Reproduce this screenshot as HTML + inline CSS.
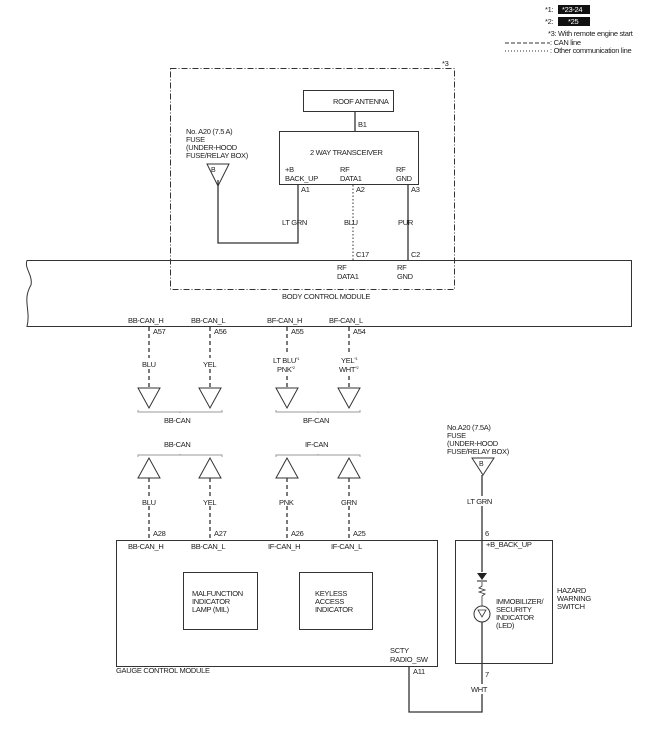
<!DOCTYPE html>
<html><head><meta charset="utf-8"><style>
html,body{margin:0;padding:0;background:#fff;}
svg{display:block;}
text{font-family:"Liberation Sans",sans-serif;font-size:7.5px;fill:#222;letter-spacing:-0.3px;}
</style></head><body>
<svg width="655" height="753" viewBox="0 0 655 753" xmlns="http://www.w3.org/2000/svg">
<!-- legend -->
<text x="545" y="12">*1:</text>
<rect x="558" y="5" width="32" height="9" fill="#111"/>
<text x="562" y="12" style="fill:#fff">*23-24</text>
<text x="545" y="24">*2:</text>
<rect x="558" y="17" width="32" height="9" fill="#111"/>
<text x="568" y="24" style="fill:#fff">*25</text>
<text x="548" y="36">*3: With remote engine start</text>
<line x1="505" y1="43" x2="550" y2="43" stroke="#333" stroke-dasharray="4,2"/>
<text x="550" y="45">: CAN line</text>
<line x1="505" y1="51" x2="550" y2="51" stroke="#333" stroke-dasharray="1,2"/>
<text x="550" y="53">: Other communication line</text>

<!-- dash-dot box -->
<rect x="170.5" y="68.5" width="284" height="221" fill="none" stroke="#333" stroke-dasharray="6,2,1,2"/>
<text x="442" y="66">*3</text>

<g fill="none" stroke="#333" stroke-width="1">
<rect x="303.5" y="90.5" width="90" height="21"/>
<rect x="279.5" y="131.5" width="139" height="53"/>
<line x1="355" y1="111" x2="355" y2="131" stroke-width="1.3"/>
<polyline points="298,184 298,243 218,243 218,180" stroke-width="1.3"/>
<line x1="353" y1="185" x2="353" y2="260" stroke-dasharray="1.5,2"/>
<line x1="408" y1="184" x2="408" y2="260" stroke-width="1.3"/>
<polygon points="207,164 229,164 218,186"/>
<!-- BCM -->
<path d="M27,260.5 H631.5 V326.5 H27 C31,310 22,300 31,285 C33,275 24,268 27,260.5 Z"/>
</g>
<text x="211" y="172" style="font-size:7px">B</text>
<text x="333" y="104">ROOF ANTENNA</text>
<text x="358" y="127">B1</text>
<text x="310" y="155">2 WAY TRANSCEIVER</text>
<text x="285" y="172">+B</text><text x="285" y="181">BACK_UP</text>
<text x="340" y="172">RF</text><text x="340" y="181">DATA1</text>
<text x="396" y="172">RF</text><text x="396" y="181">GND</text>
<text x="301" y="192">A1</text><text x="356" y="192">A2</text><text x="411" y="192">A3</text>
<text x="282" y="225">LT GRN</text><text x="344" y="225">BLU</text><text x="398" y="225">PUR</text>
<text x="186" y="134">No. A20 (7.5 A)</text>
<text x="186" y="142">FUSE</text>
<text x="186" y="150">(UNDER-HOOD</text>
<text x="186" y="158">FUSE/RELAY BOX)</text>
<text x="356" y="257">C17</text><text x="411" y="257">C2</text>
<text x="337" y="270">RF</text><text x="337" y="279">DATA1</text>
<text x="397" y="270">RF</text><text x="397" y="279">GND</text>
<text x="282" y="299">BODY CONTROL MODULE</text>

<!-- upper CAN -->
<text x="128" y="323">BB-CAN_H</text><text x="191" y="323">BB-CAN_L</text>
<text x="267" y="323">BF-CAN_H</text><text x="329" y="323">BF-CAN_L</text>
<text x="153" y="334">A57</text><text x="214" y="334">A56</text><text x="291" y="334">A55</text><text x="353" y="334">A54</text>
<g fill="none" stroke="#333">
<line x1="149" y1="327" x2="149" y2="388" stroke-dasharray="4,3" stroke-width="1.3"/>
<line x1="210" y1="327" x2="210" y2="388" stroke-dasharray="4,3" stroke-width="1.3"/>
<line x1="287" y1="327" x2="287" y2="388" stroke-dasharray="4,3" stroke-width="1.3"/>
<line x1="349" y1="327" x2="349" y2="388" stroke-dasharray="4,3" stroke-width="1.3"/>
<polygon points="138,388 160,388 149,408"/>
<polygon points="199,388 221,388 210,408"/>
<polygon points="276,388 298,388 287,408"/>
<polygon points="338,388 360,388 349,408"/>
<path d="M138,410 v2 H222 v-2 M180,412 v1" stroke="#999"/>
<path d="M276,410 v2 H360 v-2 M318,412 v1" stroke="#999"/>
<path d="M138,457 v-2 H222 v2 M180,455 v-1" stroke="#999"/>
<path d="M276,457 v-2 H360 v2 M318,455 v-1" stroke="#999"/>
<polygon points="149,458 138,478 160,478"/>
<polygon points="210,458 199,478 221,478"/>
<polygon points="287,458 276,478 298,478"/>
<polygon points="349,458 338,478 360,478"/>
<line x1="149" y1="478" x2="149" y2="540" stroke-dasharray="4,3" stroke-width="1.3"/>
<line x1="210" y1="478" x2="210" y2="540" stroke-dasharray="4,3" stroke-width="1.3"/>
<line x1="287" y1="478" x2="287" y2="540" stroke-dasharray="4,3" stroke-width="1.3"/>
<line x1="349" y1="478" x2="349" y2="540" stroke-dasharray="4,3" stroke-width="1.3"/>
</g>
<rect x="142" y="358" width="14" height="10" fill="#fff"/><text x="142" y="367">BLU</text>
<rect x="203" y="358" width="14" height="10" fill="#fff"/><text x="203" y="367">YEL</text>
<rect x="272" y="354" width="32" height="20" fill="#fff"/>
<text x="273" y="363">LT BLU<tspan style="font-size:4px" dy="-3">*1</tspan></text>
<text x="277" y="372">PNK<tspan style="font-size:4px" dy="-3">*2</tspan></text>
<rect x="338" y="354" width="24" height="20" fill="#fff"/>
<text x="341" y="363">YEL<tspan style="font-size:4px" dy="-3">*1</tspan></text>
<text x="339" y="372">WHT<tspan style="font-size:4px" dy="-3">*2</tspan></text>
<text x="164" y="423">BB-CAN</text><text x="303" y="423">BF-CAN</text>
<text x="164" y="447">BB-CAN</text><text x="305" y="447">IF-CAN</text>
<rect x="142" y="496" width="14" height="10" fill="#fff"/><text x="142" y="505">BLU</text>
<rect x="203" y="496" width="14" height="10" fill="#fff"/><text x="203" y="505">YEL</text>
<rect x="279" y="496" width="16" height="10" fill="#fff"/><text x="279" y="505">PNK</text>
<rect x="341" y="496" width="16" height="10" fill="#fff"/><text x="341" y="505">GRN</text>
<text x="153" y="536">A28</text><text x="214" y="536">A27</text><text x="291" y="536">A26</text><text x="353" y="536">A25</text>

<!-- gauge -->
<g fill="none" stroke="#333">
<rect x="116.5" y="540.5" width="321" height="126"/>
<rect x="183.5" y="572.5" width="74" height="57"/>
<rect x="299.5" y="572.5" width="73" height="57"/>
<rect x="455.5" y="540.5" width="97" height="123"/>
<polyline points="409,667 409,712 482,712 482,664" stroke-width="1.3"/>
<line x1="482" y1="475" x2="482" y2="572" stroke-width="1.3"/>
<polygon points="472,458 494,458 483,475"/>
<circle cx="482" cy="614" r="8"/>
<polygon points="478,610 486,610 482,617" stroke-width="0.8"/>
<line x1="482" y1="622" x2="482" y2="664" stroke-width="1.3"/>
<path d="M482,582 v4 l-3,2 l6,2 l-6,2 l6,2 l-3,2 v10" stroke-width="0.8"/>
</g>
<polygon points="477,573 487,573 482,580" fill="#222"/>
<line x1="477" y1="581" x2="487" y2="581" stroke="#222"/>
<text x="128" y="549">BB-CAN_H</text><text x="191" y="549">BB-CAN_L</text>
<text x="268" y="549">IF-CAN_H</text><text x="331" y="549">IF-CAN_L</text>
<text x="192" y="596">MALFUNCTION</text><text x="192" y="604">INDICATOR</text><text x="192" y="612">LAMP (MIL)</text>
<text x="315" y="596">KEYLESS</text><text x="315" y="604">ACCESS</text><text x="315" y="612">INDICATOR</text>
<text x="116" y="673">GAUGE CONTROL MODULE</text>
<text x="390" y="653">SCTY</text><text x="390" y="662">RADIO_SW</text>
<text x="413" y="674">A11</text>
<text x="447" y="430">No.A20 (7.5A)</text>
<text x="447" y="438">FUSE</text>
<text x="447" y="446">(UNDER-HOOD</text>
<text x="447" y="454">FUSE/RELAY BOX)</text>
<text x="479" y="466" style="font-size:7px">B</text>
<rect x="466" y="496" width="30" height="10" fill="#fff"/>
<text x="467" y="504">LT GRN</text>
<text x="485" y="536">6</text>
<text x="486" y="547">+B_BACK_UP</text>
<text x="496" y="604">IMMOBILIZER/</text><text x="496" y="612">SECURITY</text><text x="496" y="620">INDICATOR</text><text x="496" y="628">(LED)</text>
<text x="557" y="593">HAZARD</text><text x="557" y="601">WARNING</text><text x="557" y="609">SWITCH</text>
<text x="485" y="677">7</text>
<rect x="470" y="684" width="22" height="10" fill="#fff"/>
<text x="471" y="692">WHT</text>
</svg>
</body></html>
